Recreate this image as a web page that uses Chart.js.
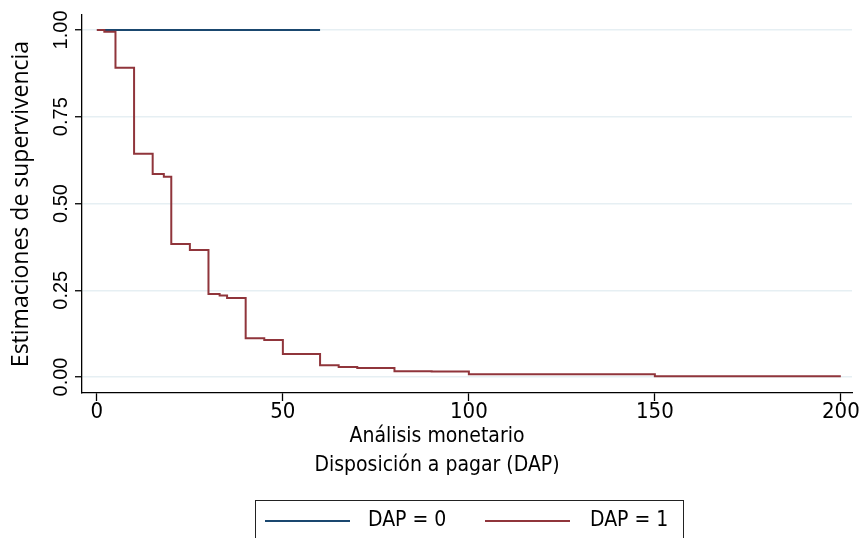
<!DOCTYPE html>
<html>
<head>
<meta charset="utf-8">
<script src="https://cdn.jsdelivr.net/npm/chart.js@4.4.1/dist/chart.umd.min.js"></script>
<style>
  html, body { margin: 0; padding: 0; background: #fff; }
  #wrap { width: 861px; height: 538px; position: relative; }
</style>
</head>
<body>
<div id="wrap"><canvas id="kmChart"></canvas></div>
<script>
// Datos
const tiempos0 = [0, 60];
const superv0 = [1, 1];
const tiempos1 = [0, 2, 5, 10, 15, 18, 20, 25, 30, 33, 35, 40, 45, 50, 60, 65, 70, 80, 90, 100, 150, 200];
const superv1 = [1, 0.995, 0.891, 0.643, 0.585, 0.577, 0.383, 0.366, 0.239, 0.235, 0.228, 0.112, 0.107, 0.066, 0.034, 0.029, 0.026, 0.017, 0.016, 0.008, 0.002, 0.002];
const xTicks = [0, 50, 100, 150, 200];
const yTicks = [0, 0.25, 0.5, 0.75, 1];
const etiquetas = ['DAP = 0', 'DAP = 1'];
const colores = ['#1a476f', '#90353b'];
const tituloX = ['Análisis monetario', 'Disposición a pagar (DAP)'];
const tituloY = 'Estimaciones de supervivencia';

const NARROW = '"Liberation Sans Narrow", "DejaVu Sans Condensed", "Liberation Sans", sans-serif';

// titulo X y leyenda con recuadro, al estilo Stata
const extrasPlugin = {
    id: 'extras',
    afterDraw(chart) {
        const ctx = chart.ctx;
        ctx.save();
        ctx.fillStyle = '#000';
        ctx.font = '21px ' + NARROW;
        ctx.textAlign = 'center';
        ctx.textBaseline = 'middle';
        ctx.fillText(tituloX[0], 437, 437);
        ctx.fillText(tituloX[1], 437, 466);

        // recuadro de la leyenda
        ctx.strokeStyle = '#222';
        ctx.lineWidth = 1;
        ctx.strokeRect(255.5, 500.5, 428, 45);

        const items = [
            { x0: 265, x1: 350, tx: 368 },
            { x0: 485, x1: 570, tx: 590 }
        ];
        chart.data.datasets.forEach((ds, i) => {
            const it = items[i];
            ctx.strokeStyle = ds.borderColor;
            ctx.lineWidth = 2;
            ctx.beginPath();
            ctx.moveTo(it.x0, 521);
            ctx.lineTo(it.x1, 521);
            ctx.stroke();
            ctx.fillStyle = '#000';
            ctx.textAlign = 'left';
            ctx.fillText(ds.label, it.tx, 521);
        });
        ctx.restore();
    }
};

const ctx = document.getElementById('kmChart').getContext('2d');
const myChart = new Chart(ctx, {
    type: 'line',
    data: {
        datasets: [
            {
                label: etiquetas[0],
                data: tiempos0.map((t, i) => ({ x: t, y: superv0[i] })),
                borderColor: colores[0],
                backgroundColor: colores[0],
                borderWidth: 2,
                stepped: true,
                pointRadius: 0,
                fill: false,
                order: 1
            },
            {
                label: etiquetas[1],
                data: tiempos1.map((t, i) => ({ x: t, y: superv1[i] })),
                borderColor: colores[1],
                backgroundColor: colores[1],
                borderWidth: 2,
                stepped: true,
                pointRadius: 0,
                fill: false,
                order: 0
            }
        ]
    },
    options: {
        responsive: true,
        maintainAspectRatio: false,
        animation: false,
        layout: { padding: { top: 15, right: 9, left: 0, bottom: 0 } },
        plugins: {
            legend: { display: false },
            tooltip: { enabled: false }
        },
        scales: {
            x: {
                type: 'linear',
                min: -4,
                max: 203,
                afterBuildTicks: s => { s.ticks = xTicks.map(v => ({ value: v })); },
                afterFit: s => { s.height = 145; },
                border: { display: true, color: '#000', width: 1.3 },
                grid: { drawOnChartArea: false, color: '#000', tickLength: 8, tickWidth: 1.3 },
                ticks: {
                    color: '#000',
                    padding: -2,
                    maxRotation: 0,
                    autoSkip: false,
                    font: { family: NARROW, size: 22 }
                }
            },
            y: {
                type: 'linear',
                min: -0.046,
                max: 1.043,
                afterBuildTicks: s => { s.ticks = yTicks.map(v => ({ value: v })); },
                afterFit: s => { s.width = 82; },
                border: { display: true, color: '#000', width: 1.3 },
                grid: { color: '#e6eff3', lineWidth: 1.5, tickColor: '#000', tickLength: 7, tickWidth: 1.3 },
                title: {
                    display: true,
                    text: tituloY,
                    color: '#000',
                    padding: { top: 8, bottom: 0 },
                    font: { family: '"Open Sans", sans-serif', size: 23 }
                },
                ticks: {
                    color: '#000',
                    minRotation: 90,
                    maxRotation: 90,
                    crossAlign: 'center',
                    padding: -6,
                    autoSkip: false,
                    callback: v => v.toFixed(2),
                    font: { family: '"Liberation Sans", sans-serif', size: 20 }
                }
            }
        }
    },
    plugins: [extrasPlugin]
});
</script>
</body>
</html>
